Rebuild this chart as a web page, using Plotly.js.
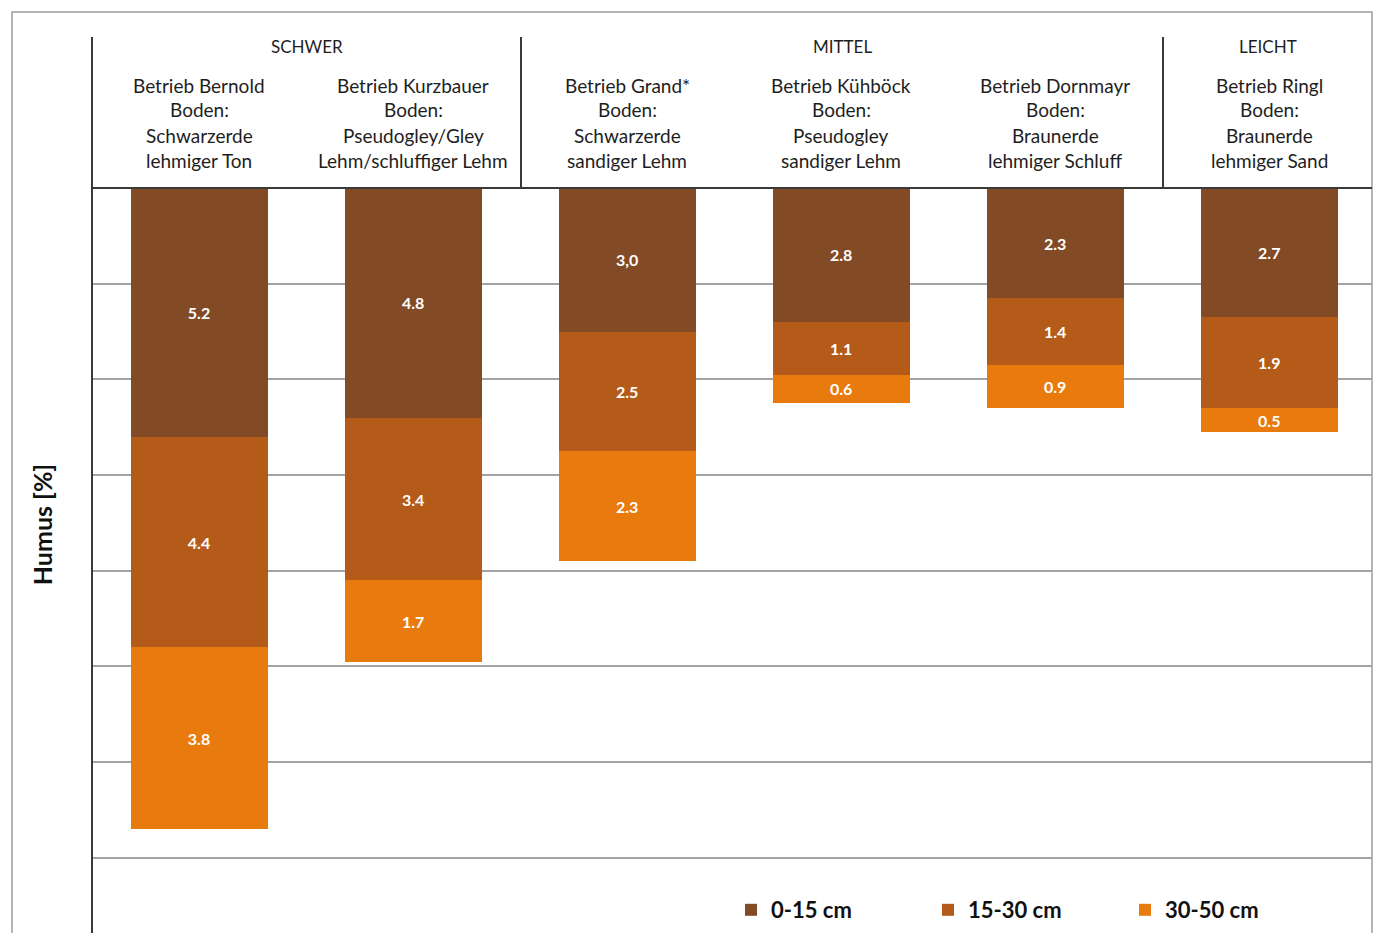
<!DOCTYPE html>
<html>
<head>
<meta charset="utf-8">
<script src="https://cdn.plot.ly/plotly-3.0.1.min.js"></script>
<style>
  html, body { margin: 0; padding: 0; background: #ffffff; }
  #chart { width: 1378px; height: 933px; }
</style>
</head>
<body>
<div id="chart"></div>
<script>
// Humus content per soil depth for six farms, grouped by soil class
const farms = ["Betrieb Bernold", "Betrieb Kurzbauer", "Betrieb Grand*", "Betrieb Kühböck", "Betrieb Dornmayr", "Betrieb Ringl"];
const soilTypes = ["Schwarzerde", "Pseudogley/Gley", "Schwarzerde", "Pseudogley", "Braunerde", "Braunerde"];
const soilTextures = ["lehmiger Ton", "Lehm/schluffiger Lehm", "sandiger Lehm", "sandiger Lehm", "lehmiger Schluff", "lehmiger Sand"];
const soilClasses = ["SCHWER", "MITTEL", "LEICHT"];
const layerNames = ["0-15 cm", "15-30 cm", "30-50 cm"];
const depth0to15 = [5.2, 4.8, 3.0, 2.8, 2.3, 2.7];
const depth15to30 = [4.4, 3.4, 2.5, 1.1, 1.4, 1.9];
const depth30to50 = [3.8, 1.7, 2.3, 0.6, 0.9, 0.5];
const gridValues = [2, 4, 6, 8, 10, 12, 14];
// Grand's topsoil value was reported with a decimal comma
const commaDecimalFarms = ["Betrieb Grand*"];

const layerColors = ["#834a26", "#b55b19", "#e97b0e"];
const FONT = "Lato, 'Open Sans', sans-serif";

// page geometry of the plotting area (a little room below the last gridline)
const W = 1378, H = 933;
const PL = 92, PR = 1372, PT = 188, PB = 861;
const Y_MAX = 14.065;
const px = x => (x - PL) / (PR - PL);
const py = y => (PB - y) / (PB - PT);

function labelsFor(values, useComma) {
  return values.map((v, i) => {
    const s = v.toFixed(1);
    return useComma && commaDecimalFarms.includes(farms[i]) ? s.replace(".", ",") : s;
  });
}

const series = [depth0to15, depth15to30, depth30to50];
const traces = series.map((vals, k) => ({
  type: "bar",
  name: layerNames[k],
  x: farms,
  y: vals,
  marker: { color: layerColors[k], line: { width: 0 } },
  text: labelsFor(vals, k === 0),
  textposition: "inside",
  insidetextanchor: "middle",
  constraintext: "none",
  textangle: 0,
  textfont: { family: FONT, size: 16, color: "#ffffff", weight: 700 },
  hoverinfo: "skip"
}));

const lineDark = "#3a3a3a";
const shapes = [
  // outer frame
  { type: "rect", xref: "paper", yref: "paper", x0: px(12), x1: px(1372), y0: py(12), y1: py(980),
    line: { color: "#9c9c9c", width: 1.5 }, layer: "below" },
  // left axis line, running through the header
  { type: "line", xref: "paper", yref: "paper", x0: 0, x1: 0, y0: py(37), y1: py(990),
    line: { color: lineDark, width: 2 } },
  // header bottom / zero line
  { type: "line", xref: "paper", yref: "paper", x0: 0, x1: 1, y0: 1, y1: 1,
    line: { color: lineDark, width: 2 } },
  // soil-class separators in the header
  { type: "line", xref: "paper", yref: "paper", x0: px(521), x1: px(521), y0: py(37), y1: 1,
    line: { color: lineDark, width: 2 } },
  { type: "line", xref: "paper", yref: "paper", x0: px(1163), x1: px(1163), y0: py(37), y1: 1,
    line: { color: lineDark, width: 2 } }
];

const annotations = [];
const classCenters = [px((92 + 521) / 2), px((521 + 1163) / 2), px((1163 + 1372) / 2)];
soilClasses.forEach((c, i) => {
  annotations.push({ xref: "paper", yref: "paper", x: classCenters[i], y: py(46),
    text: c, showarrow: false, xanchor: "center", yanchor: "middle",
    font: { family: FONT, size: 17, color: "#1e1e1e" } });
});
const headerRows = [85, 110, 135, 161];
farms.forEach((f, i) => {
  const lines = [f, "Boden:", soilTypes[i], soilTextures[i]];
  lines.forEach((t, r) => {
    annotations.push({ xref: "x", yref: "paper", x: f, y: py(headerRows[r]),
      text: t, showarrow: false, xanchor: "center", yanchor: "middle",
      font: { family: FONT, size: 19, color: "#1e1e1e" } });
  });
});

const layout = {
  width: W, height: H,
  margin: { l: PL, r: W - PR, t: PT, b: H - PB, pad: 0, autoexpand: false },
  paper_bgcolor: "#ffffff",
  plot_bgcolor: "#ffffff",
  barmode: "stack",
  bargap: 0.36,
  showlegend: true,
  hovermode: false,
  font: { family: FONT, color: "#222" },
  xaxis: { type: "category", range: [-0.5, 5.48], showticklabels: false, showgrid: false,
    zeroline: false, showline: false, ticks: "" },
  yaxis: {
    range: [Y_MAX, 0], tickvals: gridValues, showticklabels: false,
    showgrid: true, gridcolor: "#a3a3a3", gridwidth: 2, zeroline: false, showline: false, ticks: "",
    title: { text: "Humus [%]", standoff: 31, font: { family: FONT, size: 25, color: "#111", weight: 700 } }
  },
  legend: {
    orientation: "h", x: px(731), xanchor: "left", y: py(889), yanchor: "top",
    entrywidth: 152, entrywidthmode: "pixels",
    font: { family: FONT, size: 22, color: "#111", weight: 700 },
    bgcolor: "rgba(0,0,0,0)", traceorder: "normal"
  },
  shapes: shapes,
  annotations: annotations
};

Plotly.newPlot("chart", traces, layout, { displayModeBar: false, staticPlot: true });
</script>
</body>
</html>
